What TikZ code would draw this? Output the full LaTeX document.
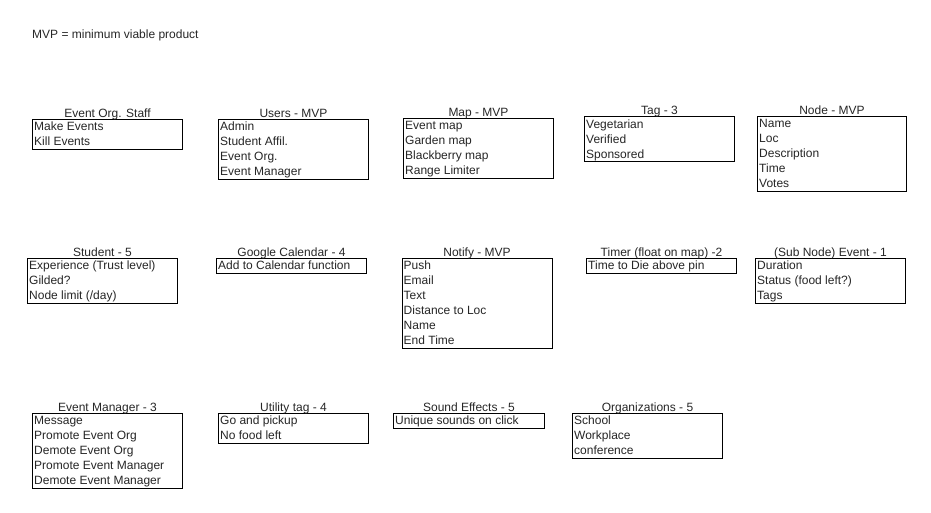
\documentclass[tikz,border=0pt]{standalone}
\usepackage{fontspec}
\setmainfont{Liberation Sans}
\usetikzlibrary{calc}
\tikzset{
  box/.style={draw=black, line width=1pt, inner sep=0pt, fill=white},
  ttl/.style={inner sep=0pt, font=\fontsize{12}{15}\selectfont, text=black!85},
  txt/.style={inner sep=0pt, font=\fontsize{12}{15}\selectfont, text=black!85},
}
% #1 name, #2 x, #3 y, #4 width, #5 number of lines, #6 title, #7 lines
\newcommand\entbox[7]{%
  \node[box, minimum width=#4, minimum height=15*#5, anchor=north west] (#1) at (#2,#3) {};
  \node[ttl, anchor=base] (#1-t) at ($(#1.north)+(0,-1.5)$) {#6};
  \foreach \ln [count=\i] in {#7}
    \node[txt, anchor=base west] (#1-\i) at ($(#1.north west)+(2,15*\i-3)$) {\ln};
}
\begin{document}
\begin{tikzpicture}[x=1pt, y=-1pt]
\useasboundingbox (0,0) rectangle (931,513);
\node[txt, anchor=base west] (legend) at (32,39) {MVP = minimum viable product};
% row 1
\entbox{eos}{32}{119}{150}{2}{Event Org. Staff}{{Make Events},{Kill Events}}
\entbox{users}{218}{119}{150}{4}{Users - MVP}{{Admin},{Student Affil.},{Event Org.},{Event Manager}}
\entbox{map}{403}{118}{150}{4}{Map - MVP}{{Event map},{Garden map},{Blackberry map},{Range Limiter}}
\entbox{tag}{584}{116.5}{150}{3}{Tag - 3}{{Vegetarian},{Verified},{Sponsored}}
\entbox{nodeb}{757}{116}{149}{5}{Node - MVP}{{Name},{Loc},{Description},{Time},{Votes}}
% row 2
\entbox{student}{27}{257.5}{150}{3}{Student - 5}{{Experience (Trust level)},{Gilded?},{Node limit (/day)}}
\entbox{gcal}{216}{257.5}{150}{1}{Google Calendar - 4}{{Add to Calendar function}}
\entbox{notify}{401.5}{257.5}{150}{6}{Notify - MVP}{{Push},{Email},{Text},{Distance to Loc},{Name},{End Time}}
\entbox{timer}{586}{257.5}{150}{1}{Timer (float on map) -2}{{Time to Die above pin}}
\entbox{subnode}{755}{257.5}{150}{3}{(Sub Node) Event - 1}{{Duration},{Status (food left?)},{Tags}}
% row 3
\entbox{evman}{32}{412.5}{150}{5}{Event Manager - 3}{{Message},{Promote Event Org},{Demote Event Org},{Promote Event Manager},{Demote Event Manager}}
\entbox{util}{218}{412.5}{150}{2}{Utility tag - 4}{{Go and pickup},{No food left}}
\entbox{sound}{393}{412.5}{151}{1}{Sound Effects - 5}{{Unique sounds on click}}
\entbox{org}{572}{412.5}{150}{3}{Organizations - 5}{{School},{Workplace},{conference}}
\end{tikzpicture}
\end{document}
